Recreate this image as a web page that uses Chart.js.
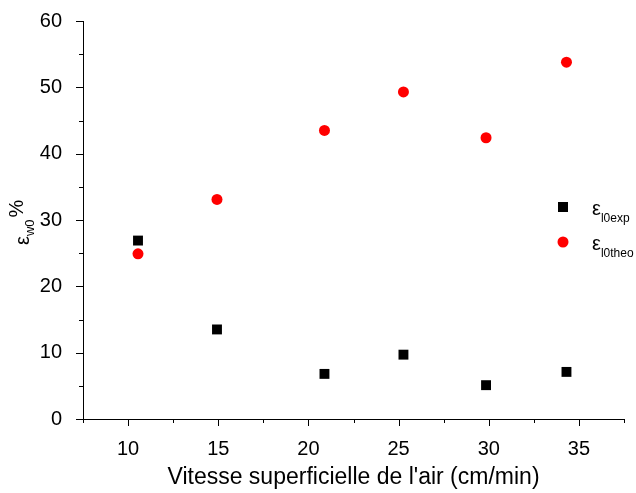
<!DOCTYPE html>
<html>
<head>
<meta charset="utf-8">
<script src="https://cdn.jsdelivr.net/npm/chart.js@4/dist/chart.umd.min.js"></script>
<style>
  html, body { margin: 0; padding: 0; background: #fff; }
  #wrap { width: 636px; height: 493px; }
</style>
</head>
<body>
<div id="wrap"><canvas id="chart" width="636" height="493"></canvas></div>
<script>
// values
const airSpeed = [10.55, 14.93, 20.89, 25.27, 29.85, 34.31];
const epsExp = [26.9, 13.5, 6.8, 9.7, 5.1, 7.1];
const epsTheo = [24.9, 33.1, 43.5, 49.3, 42.4, 53.8];

const xTitle = "Vitesse superficielle de l'air (cm/min)";
const seriesNames = [['ε', 'l0exp'], ['ε', 'l0theo']];

const FONT = '"Liberation Sans", Arial, sans-serif';

function toPoints(xs, ys) {
    return xs.map((x, i) => ({ x: x, y: ys[i] }));
}

// tick marks: long ones at labelled values, short ones between
const tickMarks = {
    id: 'tickMarks',
    afterDraw(chart) {
        const ctx = chart.ctx;
        const xs = chart.scales.x, ys = chart.scales.y;
        ctx.save();
        ctx.strokeStyle = '#000';
        ctx.lineWidth = 1;
        ctx.beginPath();
        xs.ticks.forEach(t => {
            const px = Math.round(xs.getPixelForValue(t.value)) + 0.5;
            const len = (t.value % 5 === 0) ? 7 : 4;
            ctx.moveTo(px, xs.top);
            ctx.lineTo(px, xs.top + len);
        });
        ys.ticks.forEach(t => {
            const py = Math.round(ys.getPixelForValue(t.value)) + 0.5;
            const len = (t.value % 10 === 0) ? 7 : 4;
            ctx.moveTo(ys.right, py);
            ctx.lineTo(ys.right - len, py);
        });
        ctx.stroke();
        ctx.restore();
    }
};

// y title and legend need subscripts, so draw them by hand
const extraText = {
    id: 'extraText',
    afterDraw(chart) {
        const ctx = chart.ctx;
        const area = chart.chartArea;
        ctx.save();
        ctx.fillStyle = '#000';
        ctx.textBaseline = 'alphabetic';

        // y axis title
        ctx.translate(29, (area.top + area.bottom) / 2 + 25);
        ctx.rotate(-Math.PI / 2);
        ctx.font = '20px ' + FONT;
        ctx.fillText('ε', 0, 0);
        let w = ctx.measureText('ε').width;
        ctx.font = '13px ' + FONT;
        ctx.fillText('w0', w, 5);
        w += ctx.measureText('w0').width + 2;
        ctx.font = '20px ' + FONT;
        ctx.fillText('%', w, -6);
        ctx.setTransform(1, 0, 0, 1, 0, 0);

        // legend
        const lx = 563, ly = [207, 242];
        chart.data.datasets.forEach((ds, i) => {
            ctx.fillStyle = ds.backgroundColor;
            if (ds.pointStyle === 'rect') {
                ctx.fillRect(lx - 5, ly[i] - 5, 10, 10);
            } else {
                ctx.beginPath();
                ctx.arc(lx, ly[i], 5.5, 0, Math.PI * 2);
                ctx.fill();
            }
            ctx.fillStyle = '#000';
            ctx.font = '20px ' + FONT;
            ctx.fillText(seriesNames[i][0], 592, ly[i] + 8);
            const ew = ctx.measureText(seriesNames[i][0]).width;
            ctx.font = '12px ' + FONT;
            ctx.fillText(seriesNames[i][1], 592 + ew, ly[i] + 15);
        });
        ctx.restore();
    }
};

new Chart(document.getElementById('chart'), {
    type: 'scatter',
    data: {
        datasets: [{
            label: 'exp',
            data: toPoints(airSpeed, epsExp),
            pointStyle: 'rect',
            pointRadius: 7,
            backgroundColor: '#000',
            borderColor: '#000',
            borderWidth: 0
        }, {
            label: 'theo',
            data: toPoints(airSpeed, epsTheo),
            pointStyle: 'circle',
            pointRadius: 5.5,
            backgroundColor: '#ff0000',
            borderColor: '#ff0000',
            borderWidth: 0
        }]
    },
    options: {
        responsive: false,
        animation: false,
        layout: { padding: { top: 21, right: 12, bottom: 0, left: 0 } },
        plugins: {
            legend: { display: false },
            tooltip: { enabled: false }
        },
        scales: {
            x: {
                type: 'linear',
                min: 7.5,
                max: 37.5,
                afterFit: s => { s.height = 74; s.paddingLeft = 0; s.paddingRight = 0; },
                grid: { display: false },
                border: { display: true, color: '#000', width: 1 },
                ticks: {
                    stepSize: 2.5,
                    autoSkip: false,
                    maxRotation: 0,
                    padding: 10,
                    color: '#000',
                    font: { family: FONT, size: 20 },
                    callback: v => (v % 5 === 0 ? v : '')
                },
                title: {
                    display: true,
                    text: xTitle,
                    color: '#000',
                    font: { family: FONT, size: 23 },
                    padding: { top: 0, bottom: 2 }
                }
            },
            y: {
                min: 0,
                max: 60,
                afterFit: s => { s.width = 83; s.paddingTop = 0; s.paddingBottom = 0; },
                grid: { display: false },
                border: { display: true, color: '#000', width: 1 },
                ticks: {
                    stepSize: 5,
                    autoSkip: false,
                    padding: 13,
                    color: '#000',
                    font: { family: FONT, size: 20 },
                    callback: v => (v % 10 === 0 ? v : '')
                }
            }
        }
    },
    plugins: [tickMarks, extraText]
});
</script>
</body>
</html>
